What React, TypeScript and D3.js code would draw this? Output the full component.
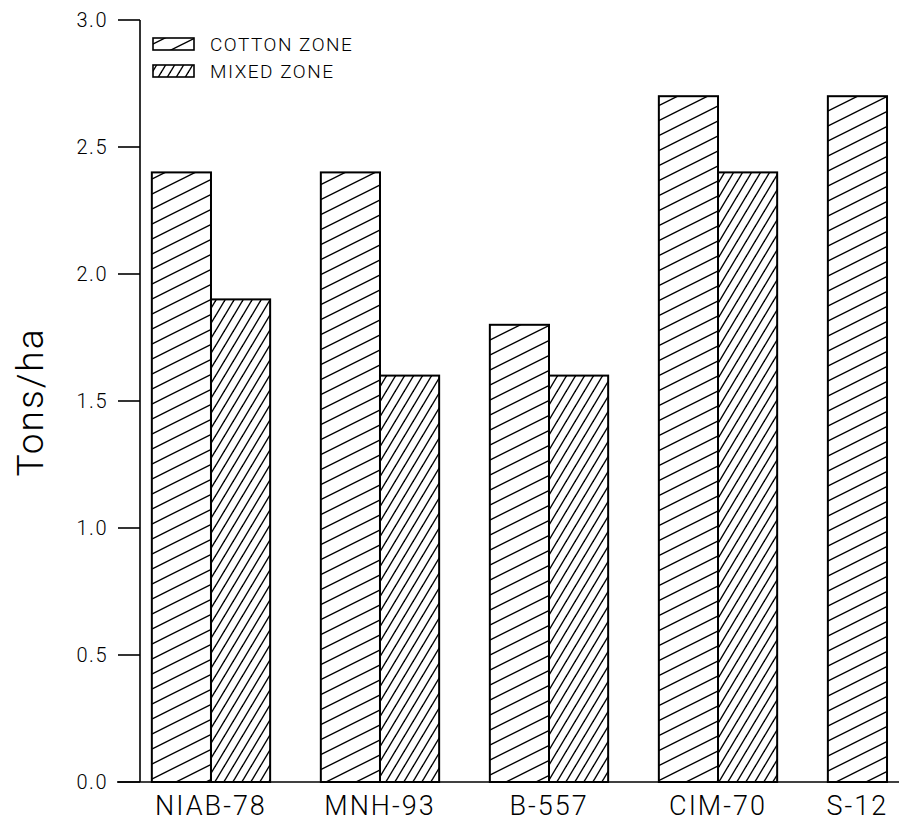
import React from 'react';
import * as d3 from 'd3';

// cotton yield by variety
const varieties = ['NIAB-78', 'MNH-93', 'B-557', 'CIM-70', 'S-12'];
const cottonZone = [2.4, 2.4, 1.8, 2.7, 2.7];
const mixedZone: (number | null)[] = [1.9, 1.6, 1.6, 2.4, null];
const yTicks = [0, 0.5, 1.0, 1.5, 2.0, 2.5, 3.0];
const legendLabels = ['COTTON ZONE', 'MIXED ZONE'];

const W = 901;
const H = 825;
const FONT = 'Roboto, "Liberation Sans", Arial, sans-serif';

export default function App() {
    const y = d3.scaleLinear().domain([0, 3]).range([782, 20]);
    const x = d3.scaleBand<string>()
        .domain(varieties)
        .range([140, 958])
        .paddingInner(0.3)
        .paddingOuter(0.07);
    const sub = d3.scaleBand<string>()
        .domain(['cotton', 'mixed'])
        .range([0, x.bandwidth()]);

    const fmt = d3.format('.1f');

    return (
        <svg width={W} height={H} style={{ position: 'absolute', left: 0, top: 0, background: '#fff' }}>
            <defs>
                <pattern id='hatchCotton' patternUnits='userSpaceOnUse' width={30} height={15}>
                    <path d='M-3,16.5 L33,-1.5' stroke='#000' strokeWidth={1.4} />
                    <path d='M-3,1.5 L3,-1.5 M27,16.5 L33,13.5' stroke='#000' strokeWidth={1.4} />
                </pattern>
                <pattern id='hatchMixed' patternUnits='userSpaceOnUse' width={9} height={15}>
                    <path d='M-0.6,16 L9.6,-1' stroke='#000' strokeWidth={1.4} />
                    <path d='M-0.6,1 L0.6,-1 M8.4,16 L9.6,14' stroke='#000' strokeWidth={1.4} />
                </pattern>
            </defs>

            {/* bars */}
            {varieties.map((v, i) => {
                const x0 = x(v) as number;
                const bars = [
                    { key: 'cotton', value: cottonZone[i], fill: 'url(#hatchCotton)' },
                    { key: 'mixed', value: mixedZone[i], fill: 'url(#hatchMixed)' }
                ].filter(b => b.value !== null);
                return (
                    <g key={v}>
                        {bars.map(b => (
                            <rect key={b.key}
                                x={x0 + (sub(b.key) as number)}
                                y={y(b.value as number)}
                                width={sub.bandwidth()}
                                height={y(0) - y(b.value as number)}
                                fill={b.fill}
                                stroke='#000'
                                strokeWidth={2} />
                        ))}
                    </g>
                );
            })}

            {/* y axis */}
            <line x1={140} x2={140} y1={y(3)} y2={y(0)} stroke='#000' strokeWidth={1.6} />
            {yTicks.map(t => (
                <g key={t}>
                    <line x1={118} x2={140} y1={y(t)} y2={y(t)} stroke='#000' strokeWidth={1.6} />
                    <text x={108} y={y(t)} dy='0.36em' textAnchor='end'
                        fontFamily={FONT} fontWeight={300} fontSize={20} letterSpacing={1.5}>
                        {fmt(t)}
                    </text>
                </g>
            ))}
            <line x1={117} x2={899} y1={y(0)} y2={y(0)} stroke='#000' strokeWidth={1.6} />

            {/* x labels */}
            {varieties.map((v, i) => {
                const cx = mixedZone[i] === null
                    ? (x(v) as number) + (sub('cotton') as number) + sub.bandwidth() / 2
                    : (x(v) as number) + x.bandwidth() / 2;
                return (
                    <text key={v} x={cx} y={815} textAnchor='middle'
                        fontFamily={FONT} fontWeight={300} fontSize={27} letterSpacing={2}>
                        {v}
                    </text>
                );
            })}

            <text transform='translate(43,402) rotate(-90)' textAnchor='middle'
                fontFamily={FONT} fontWeight={300} fontSize={37} letterSpacing={2}>
                Tons/ha
            </text>

            {/* legend */}
            {legendLabels.map((l, i) => (
                <g key={l} transform={`translate(153,${44 + i * 27})`}>
                    <rect x={0} y={-6} width={41} height={12}
                        fill={i === 0 ? 'url(#hatchCotton)' : 'url(#hatchMixed)'}
                        stroke='#000' strokeWidth={1.6} />
                    <text x={57} y={0} dy='0.36em'
                        fontFamily={FONT} fontWeight={300} fontSize={19} letterSpacing={1.5}>
                        {l}
                    </text>
                </g>
            ))}
        </svg>
    );
}
